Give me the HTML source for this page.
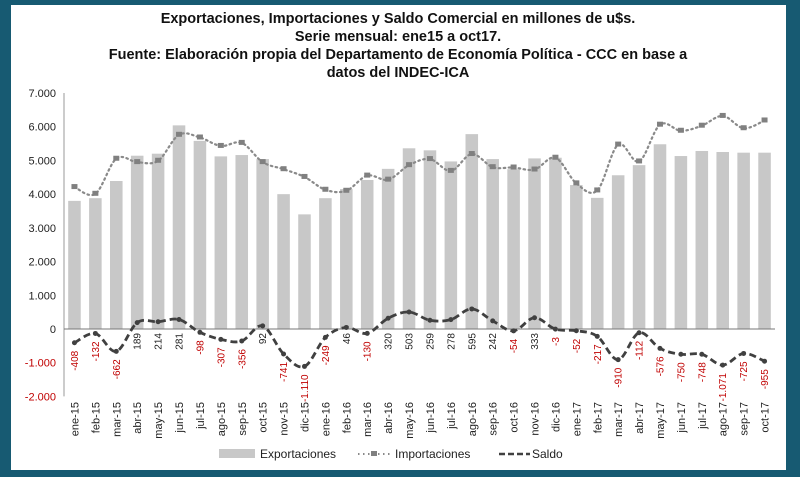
<!DOCTYPE html>
<html><head><meta charset="utf-8"><style>
html,body{margin:0;padding:0;background:#175a72;}
#wrap{position:relative;width:800px;height:477px;background:#175a72;overflow:hidden;}
#panel{position:absolute;left:11px;top:5px;width:775px;height:465px;background:#fff;}
svg{position:absolute;left:0;top:0;}
text{font-family:"Liberation Sans",sans-serif;}
</style></head><body>
<div id="wrap">
<div id="panel"></div>
<svg id="chart" width="800" height="477">
<g font-size="14.5" font-weight="bold" fill="#111" text-anchor="middle">
<text x="398" y="23">Exportaciones, Importaciones y Saldo Comercial en millones de u$s.</text>
<text x="398" y="41">Serie mensual: ene15 a oct17.</text>
<text x="398" y="59">Fuente: Elaboración propia del Departamento de Economía Política - CCC en base a</text>
<text x="398" y="77">datos del INDEC-ICA</text>
</g>
</svg>
</div>
<script>
const categories=["ene-15","feb-15","mar-15","abr-15","may-15","jun-15","jul-15","ago-15","sep-15","oct-15","nov-15","dic-15","ene-16","feb-16","mar-16","abr-16","may-16","jun-16","jul-16","ago-16","sep-16","oct-16","nov-16","dic-16","ene-17","feb-17","mar-17","abr-17","may-17","jun-17","jul-17","ago-17","sep-17","oct-17"];
const exportaciones=[3800,3880,4390,5140,5200,6040,5580,5120,5160,5040,4000,3400,3880,4150,4420,4750,5360,5300,4970,5780,5040,4740,5060,5080,4270,3890,4560,4860,5480,5130,5280,5250,5230,5230];
const importaciones=[4210,4010,5050,4950,4990,5760,5680,5430,5520,4950,4740,4510,4130,4100,4550,4430,4860,5040,4690,5190,4800,4790,4730,5080,4320,4110,5470,4970,6060,5880,6030,6320,5955,6185];
const saldo=[-408,-132,-662,189,214,281,-98,-307,-356,92,-741,-1110,-249,46,-130,320,503,259,278,595,242,-54,333,-3,-52,-217,-910,-112,-576,-750,-748,-1071,-725,-955];
const saldoLabels=["-408","-132","-662","189","214","281","-98","-307","-356","92","-741","-1.110","-249","46","-130","320","503","259","278","595","242","-54","333","-3","-52","-217","-910","-112","-576","-750","-748","-1.071","-725","-955"];
const yTicks=[7000,6000,5000,4000,3000,2000,1000,0,-1000,-2000];
const yTickLabels=["7.000","6.000","5.000","4.000","3.000","2.000","1.000","0","-1.000","-2.000"];

const NS="http://www.w3.org/2000/svg";
const svg=document.getElementById('chart');
const X0=64,X1=775,Y7=93,Y0=329;
const step=(X1-X0)/categories.length;
function xs(i){return X0+step*(i+0.5);}
function ys(v){return Y0-(v/7000)*(Y0-Y7);}
function mk(tag,attrs,parent){const e=document.createElementNS(NS,tag);for(const k in attrs)e.setAttribute(k,attrs[k]);(parent||svg).appendChild(e);return e;}
function smooth(pts){let d="M"+pts[0][0]+","+pts[0][1];for(let i=0;i<pts.length-1;i++){const p0=pts[i-1]||pts[i],p1=pts[i],p2=pts[i+1],p3=pts[i+2]||p2;const t=0.17;d+=" C"+(p1[0]+(p2[0]-p0[0])*t)+","+(p1[1]+(p2[1]-p0[1])*t)+" "+(p2[0]-(p3[0]-p1[0])*t)+","+(p2[1]-(p3[1]-p1[1])*t)+" "+p2[0]+","+p2[1];}return d;}

yTicks.forEach((v,i)=>{
  const t=mk('text',{x:56,y:ys(v)+4,'text-anchor':'end','font-size':11,fill:v<0?'#c00000':'#222'});
  
  
  t.textContent=yTickLabels[i];
});
const ax=mk('line',{x1:X0,x2:X0,y1:Y7,y2:ys(-2000),stroke:'#999','stroke-width':1});



const bw=step*0.6;
exportaciones.forEach((v,i)=>{
  const r=mk('rect',{x:xs(i)-bw/2,y:ys(v),width:bw,height:Y0-ys(v),fill:'#c8c8c8'});
  
  
});
const zl=mk('line',{x1:X0,x2:X1,y1:Y0,y2:Y0,stroke:'#777','stroke-width':1});



const ip=importaciones.map((v,i)=>[xs(i),ys(v)]);
const il=mk('path',{d:smooth(ip),fill:'none',stroke:'#8a8a8a','stroke-width':2.2,'stroke-dasharray':'1.5 3.5','stroke-linecap':'round'});


ip.forEach((p,i)=>{
  const m=mk('rect',{x:p[0]-3,y:p[1]-3,width:6,height:5,fill:'#808080'});
  
  
});

const sp=saldo.map((v,i)=>[xs(i),ys(v)]);
const sl=mk('path',{d:smooth(sp),fill:'none',stroke:'#404040','stroke-width':2.8,'stroke-dasharray':'7 4'});


sp.forEach((p,i)=>{
  const m=mk('circle',{cx:p[0],cy:p[1],r:2.5,fill:'#404040'});
  
  
  const top=saldo[i]>=0?Y0+4:p[1]+8;
  const t=mk('text',{x:0,y:0,'text-anchor':'end','font-size':10,fill:saldo[i]>=0?'#222':'#c00000',transform:'translate('+(p[0]+3.5)+','+top+') rotate(-90)'});
  
  
  t.textContent=saldoLabels[i];
});

categories.forEach((c,i)=>{
  const t=mk('text',{x:0,y:0,'text-anchor':'end','font-size':11,fill:'#222',transform:'translate('+(xs(i)+4)+',402) rotate(-90)'});
  
  
  t.textContent=c;
});

const lg=mk('g',{});


const l1=mk('rect',{x:219,y:449,width:36,height:9,fill:'#c8c8c8'},lg);


const t1=mk('text',{x:260,y:458,'font-size':12,fill:'#222'},lg);t1.textContent='Exportaciones';


const l2=mk('line',{x1:358,x2:390,y1:454,y2:454,stroke:'#8a8a8a','stroke-width':2,'stroke-dasharray':'1.5 3.5'},lg);


mk('rect',{x:371,y:451,width:6,height:5,fill:'#808080'},lg);
const t2=mk('text',{x:395,y:458,'font-size':12,fill:'#222'},lg);t2.textContent='Importaciones';


const l3=mk('line',{x1:499,x2:530,y1:454,y2:454,stroke:'#404040','stroke-width':2.5,'stroke-dasharray':'6 3'},lg);


const t3=mk('text',{x:532,y:458,'font-size':12,fill:'#222'},lg);t3.textContent='Saldo';


</script>
</body></html>
